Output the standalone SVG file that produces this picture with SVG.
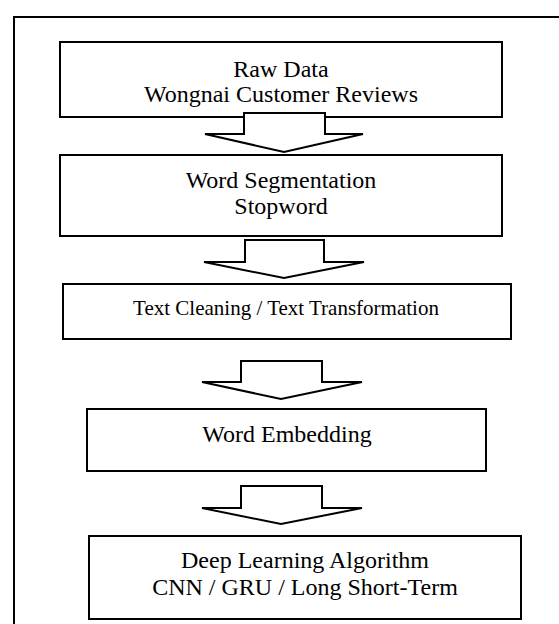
<svg xmlns="http://www.w3.org/2000/svg" width="559" height="624" viewBox="0 0 559 624">
<style>
.box{fill:#fff;stroke:#000;stroke-width:2}
.arr{fill:#fff;stroke:#000;stroke-width:2;stroke-linejoin:miter}
text{font-family:"Liberation Serif","Times New Roman",serif;fill:#000;text-anchor:middle;font-size:24px}
.sm{font-size:21px}
</style>
<rect x="0" y="0" width="559" height="624" fill="#fff"/>
<rect id="frame" x="14" y="17" width="620" height="700" fill="none" stroke="#000" stroke-width="2"/>
<g id="n1">
<rect class="box" x="60" y="42" width="442" height="75"/>
<text x="281" y="77">Raw Data</text>
<text x="281" y="102">Wongnai Customer Reviews</text>
</g>
<g id="n2">
<rect class="box" x="60" y="155" width="442" height="81"/>
<text x="281" y="188">Word Segmentation</text>
<text x="281" y="214">Stopword</text>
</g>
<g id="n3">
<rect class="box" x="63" y="284" width="448" height="55"/>
<text class="sm" x="286" y="315">Text Cleaning / Text Transformation</text>
</g>
<g id="n4">
<rect class="box" x="87" y="409" width="399" height="62"/>
<text x="287" y="442">Word Embedding</text>
</g>
<g id="n5">
<rect class="box" x="89" y="536" width="432" height="83"/>
<text x="305" y="568">Deep Learning Algorithm</text>
<text x="305" y="595">CNN / GRU / Long Short-Term</text>
</g>
<g id="connectors">
<polygon class="arr" points="244,113 325,113 325,134 363,134 284,152 205,134 244,134"/>
<polygon class="arr" points="245,240 324,240 324,262 364,262 284,278 204,262 245,262"/>
<polygon class="arr" points="241,361 322,361 322,382 362,382 281,399 202,382 241,382"/>
<polygon class="arr" points="241,486 322,486 322,508 362,508 281,524 202,508 241,508"/>
</g>
</svg>
